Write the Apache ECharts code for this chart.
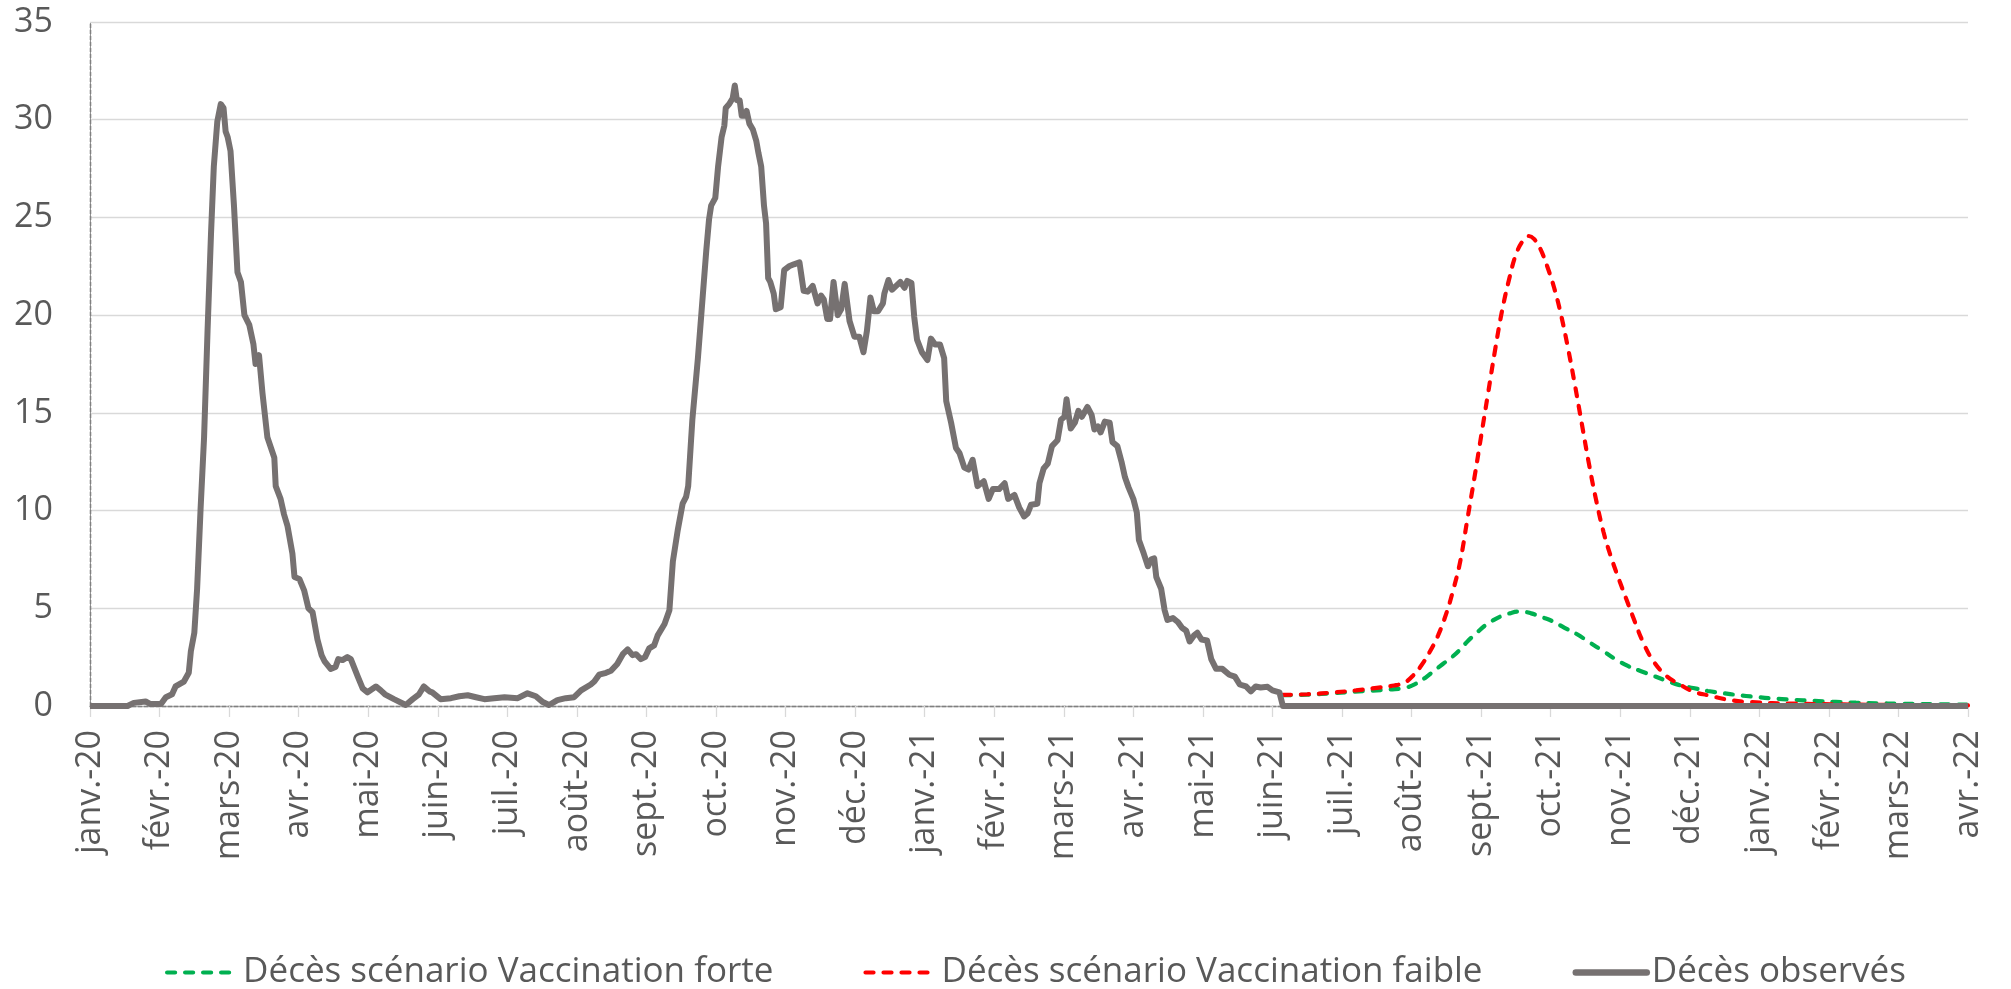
<!DOCTYPE html>
<html>
<head>
<meta charset="utf-8">
<script src="https://cdn.jsdelivr.net/npm/echarts@6.0.0/dist/echarts.min.js"></script>
<style>
  html, body { margin: 0; padding: 0; background: #fff; }
  #chart { width: 2011px; height: 989px; }
</style>
</head>
<body>
<div id="chart"></div>
<script>
// axe des x : un cran par mois (0 = janv.-20)
var moisLabels = ['janv.-20', 'févr.-20', 'mars-20', 'avr.-20', 'mai-20', 'juin-20', 'juil.-20', 'août-20',
  'sept.-20', 'oct.-20', 'nov.-20', 'déc.-20', 'janv.-21', 'févr.-21', 'mars-21', 'avr.-21', 'mai-21',
  'juin-21', 'juil.-21', 'août-21', 'sept.-21', 'oct.-21', 'nov.-21', 'déc.-21', 'janv.-22', 'févr.-22',
  'mars-22', 'avr.-22'];
var yTicks = [0, 5, 10, 15, 20, 25, 30, 35];

var seriesNames = ['Décès scénario Vaccination forte', 'Décès scénario Vaccination faible', 'Décès observés'];

// décès observés (position en mois, valeur)
var obsX = [0, 0.54, 0.63, 0.80, 0.87, 1.02, 1.09, 1.18, 1.23, 1.35, 1.42, 1.45, 1.50, 1.54, 1.59, 1.64, 1.69, 1.74,
  1.78, 1.83, 1.88, 1.92, 1.95, 1.98, 2.02, 2.07, 2.12, 2.17, 2.22, 2.29, 2.35, 2.38, 2.43, 2.48, 2.55, 2.65, 2.67,
  2.74, 2.79, 2.84, 2.91, 2.94, 3.01, 3.08, 3.14, 3.20, 3.27, 3.33, 3.37, 3.46, 3.53, 3.57, 3.63, 3.70, 3.75, 3.85,
  3.92, 3.99, 4.11, 4.18, 4.24, 4.37, 4.54, 4.64, 4.73, 4.80, 4.88, 4.92, 5.04, 5.19, 5.31, 5.43, 5.55, 5.67, 5.81,
  5.96, 6.15, 6.29, 6.41, 6.51, 6.60, 6.72, 6.84, 6.96, 7.06, 7.20, 7.25, 7.32, 7.42, 7.49, 7.58, 7.66, 7.73, 7.80,
  7.85, 7.92, 7.98, 8.04, 8.11, 8.16, 8.26, 8.33, 8.38, 8.45, 8.52, 8.57, 8.60, 8.66, 8.74, 8.81, 8.86, 8.90, 8.93,
  8.99, 9.03, 9.08, 9.12, 9.14, 9.19, 9.24, 9.27, 9.30, 9.34, 9.37, 9.41, 9.44, 9.48, 9.53, 9.58, 9.61, 9.65, 9.69,
  9.72, 9.75, 9.78, 9.83, 9.86, 9.93, 9.98, 10.05, 10.12, 10.20, 10.26, 10.32, 10.39, 10.46, 10.51, 10.55, 10.60,
  10.64, 10.69, 10.75, 10.80, 10.85, 10.92, 10.99, 11.06, 11.12, 11.17, 11.22, 11.27, 11.33, 11.40, 11.42, 11.48,
  11.53, 11.59, 11.65, 11.71, 11.75, 11.81, 11.85, 11.89, 11.96, 12.04, 12.09, 12.15, 12.22, 12.28, 12.31, 12.38,
  12.45, 12.50, 12.57, 12.63, 12.69, 12.76, 12.85, 12.92, 12.98, 13.07, 13.15, 13.20, 13.29, 13.36, 13.43, 13.48,
  13.53, 13.62, 13.65, 13.71, 13.77, 13.83, 13.91, 13.96, 14.01, 14.04, 14.07, 14.10, 14.16, 14.21, 14.26, 14.34,
  14.40, 14.44, 14.49, 14.53, 14.59, 14.66, 14.70, 14.77, 14.83, 14.88, 14.93, 15.00, 15.05, 15.08, 15.15, 15.21,
  15.26, 15.30, 15.33, 15.40, 15.45, 15.49, 15.57, 15.64, 15.70, 15.76, 15.81, 15.87, 15.92, 15.98, 16.06, 16.12,
  16.19, 16.28, 16.38, 16.46, 16.53, 16.62, 16.69, 16.76, 16.83, 16.93, 17.00, 17.10, 17.15, 27];
var obsY = [0, 0, 0.16, 0.23, 0.1, 0.1, 0.45, 0.6, 1.0, 1.25, 1.7, 2.8, 3.75, 6.0, 10.1, 13.75, 19.2, 24.2,
  27.6, 29.9, 30.8, 30.6, 29.4, 29.1, 28.4, 25.6, 22.2, 21.7, 20.0, 19.5, 18.5, 17.5, 17.95, 16.0, 13.75, 12.7, 11.25,
  10.6, 9.8, 9.2, 7.8, 6.6, 6.5, 5.9, 5.0, 4.8, 3.4, 2.6, 2.3, 1.9, 2.0, 2.4, 2.35, 2.5, 2.4, 1.5,
  0.9, 0.7, 1.0, 0.8, 0.6, 0.35, 0.05, 0.35, 0.6, 1.0, 0.75, 0.7, 0.35, 0.4, 0.5, 0.55, 0.45, 0.35, 0.4,
  0.45, 0.4, 0.65, 0.5, 0.2, 0.05, 0.3, 0.4, 0.45, 0.8, 1.1, 1.25, 1.6, 1.7, 1.8, 2.15, 2.65, 2.9, 2.6,
  2.65, 2.4, 2.5, 2.95, 3.1, 3.6, 4.2, 4.9, 7.4, 9.0, 10.35, 10.7, 11.25, 14.65, 17.8, 21.0, 23.3, 24.9, 25.6,
  26.0, 27.6, 29.1, 29.7, 30.6, 30.8, 31.1, 31.75, 31.0, 31.0, 30.2, 30.2, 30.45, 29.8, 29.5, 28.9, 28.3, 27.6, 25.6,
  24.7, 21.9, 21.7, 21.1, 20.3, 20.4, 22.3, 22.5, 22.6, 22.7, 21.25, 21.2, 21.5, 20.6, 21.0, 20.8, 19.8,
  19.8, 21.7, 20.0, 20.3, 21.6, 19.7, 18.9, 18.9, 18.1, 19.2, 20.9, 20.2, 20.2, 20.6, 21.1, 21.8,
  21.3, 21.5, 21.7, 21.4, 21.75, 21.65, 19.9, 18.75, 18.1, 17.7, 18.8, 18.5, 18.5, 17.8, 15.6, 14.5,
  13.2, 12.95, 12.2, 12.1, 12.6, 11.25, 11.5, 10.6, 11.1, 11.1, 11.4, 10.6, 10.8, 10.15, 9.7, 9.85,
  10.3, 10.35, 11.4, 12.15, 12.4, 13.3, 13.6, 14.65, 14.8, 15.7, 14.9, 14.2, 14.5, 15.1, 14.8, 15.3,
  14.9, 14.15, 14.3, 14.0, 14.55, 14.5, 13.5, 13.3, 12.5, 11.7, 11.2, 10.6, 9.9, 8.5, 7.8, 7.15,
  7.5, 7.55, 6.6, 6.0, 4.9, 4.4, 4.5, 4.3, 4.0, 3.85, 3.3, 3.6, 3.75, 3.4, 3.35, 2.4,
  1.9, 1.9, 1.6, 1.5, 1.1, 1.0, 0.75, 1.0, 0.95, 0.98, 0.8, 0.7, 0, 0];

// scénario vaccination forte
var forteX = [17.15, 17.5, 17.9, 18.3, 18.7, 18.9, 19.05, 19.2, 19.32, 19.45, 19.57, 19.7, 19.81, 19.93, 20.05,
  20.17, 20.29, 20.41, 20.53, 20.62, 20.72, 20.87, 21.02, 21.2, 21.38, 21.56, 21.75, 21.93, 22.11, 22.3, 22.48,
  22.66, 22.84, 23.05, 23.26, 23.47, 23.69, 23.93, 24.17, 24.48, 24.78, 25.1, 25.39, 25.7, 25.99, 26.5, 27];
var forteY = [0.55, 0.58, 0.66, 0.76, 0.85, 0.92, 1.12, 1.45, 1.79, 2.15, 2.47, 2.9, 3.33, 3.72, 4.1,
  4.38, 4.6, 4.74, 4.83, 4.82, 4.74, 4.55, 4.35, 4.0, 3.67, 3.25, 2.82, 2.4, 2.05, 1.78, 1.54,
  1.3, 1.08, 0.92, 0.77, 0.66, 0.56, 0.47, 0.39, 0.32, 0.26, 0.21, 0.17, 0.14, 0.12, 0.09, 0.07];

// scénario vaccination faible
var faibleX = [17.15, 17.5, 17.9, 18.2, 18.5, 18.75, 18.9, 19.02, 19.14, 19.26, 19.38, 19.5, 19.6, 19.7, 19.8,
  19.9, 20.0, 20.1, 20.2, 20.3, 20.4, 20.5, 20.6, 20.68, 20.76, 20.85, 20.95, 21.05, 21.15, 21.25, 21.35, 21.45,
  21.55, 21.65, 21.76, 21.87, 21.99, 22.09, 22.19, 22.33, 22.47, 22.66, 22.86, 23.05, 23.26, 23.57, 23.87, 24.5,
  25.2, 26, 27];
var faibleY = [0.57, 0.6, 0.7, 0.8, 0.93, 1.05, 1.2, 1.55, 2.07, 2.76, 3.6, 4.74, 5.95, 7.4, 9.5,
  11.6, 13.8, 16.0, 18.2, 20.2, 21.8, 23.1, 23.8, 24.05, 23.9, 23.4, 22.5, 21.4, 20.0, 18.3, 16.4, 14.4,
  12.4, 10.6, 8.9, 7.6, 6.4, 5.45, 4.5, 3.25, 2.33, 1.55, 1.1, 0.74, 0.55, 0.31, 0.2, 0.12,
  0.08, 0.05, 0.03];

var labelFont = 'Open Sans';
var textGray = '#595959';
var gridGray = '#D9D9D9';
var borderGray = '#808080';
var obsColor = '#767171';

function pairs(xs, ys) {
  return xs.map(function (x, i) { return [x, ys[i]]; });
}

function dashedSeries(name, color, xs, ys) {
  return {
    name: name,
    type: 'line',
    data: pairs(xs, ys),
    symbol: 'none',
    smooth: 0.4,
    itemStyle: { color: color },
    lineStyle: { color: color, width: 4.2, type: [8, 10], cap: 'round' }
  };
}

function getOption() {
  return {
    animation: false,
    backgroundColor: '#fff',
    grid: { left: 90, right: 43, top: 22, bottom: 283 },
    legend: {
      left: 160,
      top: 950,
      itemWidth: 71,
      itemHeight: 20,
      itemGap: 90,
      itemStyle: { opacity: 0 },
      textStyle: { fontFamily: labelFont, fontSize: 35, color: textGray },
      data: [
        { name: seriesNames[0], lineStyle: { width: 4.2, type: [8, 10], cap: 'round' } },
        { name: seriesNames[1], lineStyle: { width: 4.2, type: [8, 10], cap: 'round' } },
        { name: seriesNames[2], lineStyle: { width: 6.5, cap: 'round' } }
      ]
    },
    xAxis: [{
      type: 'value',
      min: 0,
      max: moisLabels.length - 1,
      interval: 1,
      axisLine: { lineStyle: { color: gridGray, width: 1.3 } },
      axisTick: { length: 11, lineStyle: { color: gridGray, width: 1.3 } },
      splitLine: { show: false },
      axisLabel: {
        rotate: 90,
        margin: 24,
        fontFamily: labelFont,
        fontSize: 34,
        color: textGray,
        formatter: function (v) { return moisLabels[v]; }
      }
    }, {
      // bord du haut du cadre
      type: 'value',
      position: 'top',
      min: 0,
      max: moisLabels.length - 1,
      axisLine: { show: true, lineStyle: { color: borderGray, width: 1.3, type: [4, 2] } },
      axisTick: { show: false },
      axisLabel: { show: false },
      splitLine: { show: false }
    }],
    yAxis: [{
      type: 'value',
      min: yTicks[0],
      max: yTicks[yTicks.length - 1],
      interval: 5,
      axisLine: { show: true, lineStyle: { color: borderGray, width: 1.3, type: [4, 2] } },
      axisTick: { show: false },
      splitLine: { lineStyle: { color: gridGray, width: 1.3 } },
      axisLabel: { margin: 37, fontFamily: labelFont, fontSize: 34, color: textGray }
    }, {
      // bord droit du cadre
      type: 'value',
      position: 'right',
      min: yTicks[0],
      max: yTicks[yTicks.length - 1],
      axisLine: { show: true, lineStyle: { color: borderGray, width: 1.3, type: [4, 2] } },
      axisTick: { show: false },
      axisLabel: { show: false },
      splitLine: { show: false }
    }],
    series: [
      dashedSeries(seriesNames[0], '#00B050', forteX, forteY),
      dashedSeries(seriesNames[1], '#FF0000', faibleX, faibleY),
      {
        name: seriesNames[2],
        type: 'line',
        data: pairs(obsX, obsY),
        symbol: 'none',
        itemStyle: { color: obsColor },
        lineStyle: { color: obsColor, width: 6, join: 'round' }
      }
    ]
  };
}

var chart = echarts.init(document.getElementById('chart'));
chart.setOption(getOption());
</script>
</body>
</html>
